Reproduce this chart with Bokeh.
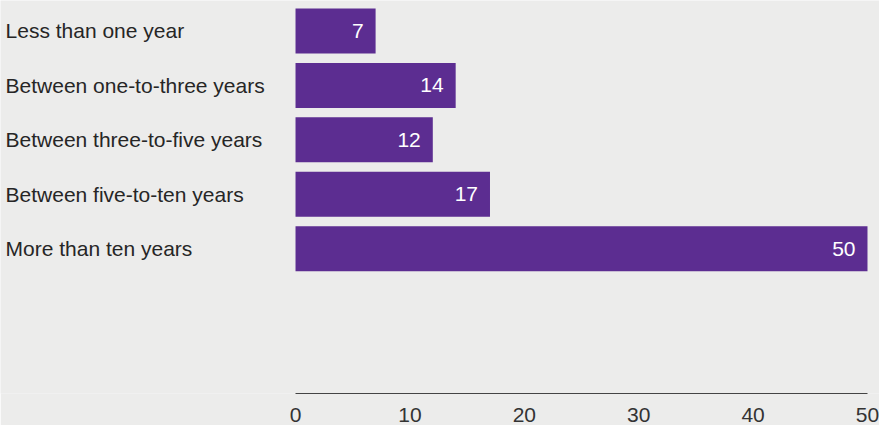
from bokeh.plotting import figure
from bokeh.models import ColumnDataSource, Range1d, FixedTicker
from bokeh.core.properties import value
from bokeh.embed import file_html
from bokeh.resources import INLINE

categories = [
    "Less than one year",
    "Between one-to-three years",
    "Between three-to-five years",
    "Between five-to-ten years",
    "More than ten years",
]
shares = [7, 14, 12, 17, 50]
x_ticks = [0, 10, 20, 30, 40, 50]

BG = "#ececeb"
PURPLE = "#5c2d91"
FONT = "Liberation Sans"

positions = list(range(len(categories)))
source = ColumnDataSource(dict(
    y=positions,
    share=shares,
    label=[str(v) for v in shares],
    category=categories,
    label_x=[-25.35] * len(categories),
))

p = figure(
    width=879, height=425,
    x_range=Range1d(-25.79, 51.05),
    y_range=Range1d(6.66, -0.56),
    y_axis_location=None,
    output_backend="svg", toolbar_location=None,
    min_border_left=0, min_border_right=0,
    min_border_top=0, min_border_bottom=32,
)
p.background_fill_color = BG
p.border_fill_color = BG
p.outline_line_color = None
p.grid.visible = False

p.hbar(y="y", left=0, right="share", height=0.827, source=source,
       fill_color=PURPLE, line_color=None)

# value labels inside the bar ends
p.text(x="share", y="y", text="label", source=source,
       text_align="right", text_baseline="middle", x_offset=-12,
       text_color="white", text_font=value(FONT), text_font_size="21px")

# category labels, left aligned at the page edge
p.text(x="label_x", y="y", text="category", source=source,
       text_align="left", text_baseline="middle",
       text_color="#262626", text_font=value(FONT), text_font_size="21px")

ax = p.xaxis[0]
ax.bounds = (0, 50)
ax.ticker = FixedTicker(ticks=x_ticks)
ax.axis_line_color = "#444444"
ax.axis_line_width = 1
ax.major_tick_line_color = None
ax.minor_tick_line_color = None
ax.major_tick_out = 0
ax.major_tick_in = 0
ax.major_label_standoff = 14
ax.major_label_text_font = FONT
ax.major_label_text_font_size = "21px"
ax.major_label_text_color = "#333333"

open("out.html", "w").write(file_html(p, INLINE))
